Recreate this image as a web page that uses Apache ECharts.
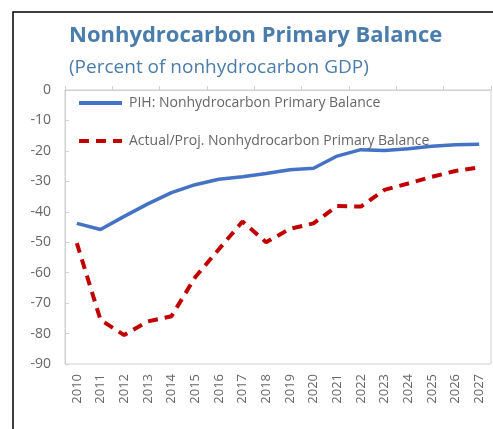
<!DOCTYPE html>
<html>
<head>
<meta charset="UTF-8">
<title>Nonhydrocarbon Primary Balance</title>
<script src="https://cdn.jsdelivr.net/npm/echarts@6/dist/echarts.min.js"></script>
<style>
  html, body, #main { margin: 0; padding: 0; width: 493px; height: 429px; background: #fff; }
</style>
</head>
<body>
<div id="main"></div>
<script>
  // data
  const years = ['2010', '2011', '2012', '2013', '2014', '2015', '2016', '2017', '2018',
                 '2019', '2020', '2021', '2022', '2023', '2024', '2025', '2026', '2027'];
  const pihBalance = [-43.8, -45.8, -41.5, -37.4, -33.7, -31.1, -29.3, -28.5, -27.4,
                      -26.2, -25.7, -21.7, -19.6, -19.9, -19.3, -18.5, -18.0, -17.8];
  const actualBalance = [-50.3, -75.5, -80.5, -76.0, -74.3, -61.5, -52.3, -43.2, -50.0,
                         -45.6, -43.8, -38.1, -38.3, -32.8, -30.7, -28.5, -26.6, -25.4];
  const seriesNames = ['PIH: Nonhydrocarbon Primary Balance',
                       'Actual/Proj. Nonhydrocarbon Primary Balance'];

  const chart = echarts.init(document.getElementById('main'));
  const font = '"Open Sans", sans-serif';
  const gray = '#666';

  chart.setOption({
    animation: false,
    backgroundColor: '#fff',
    textStyle: { fontFamily: font },
    title: {
      text: 'Nonhydrocarbon Primary Balance',
      subtext: '(Percent of nonhydrocarbon GDP)',
      left: 64,
      top: 20,
      itemGap: 11,
      textStyle: { fontFamily: font, fontSize: 22, fontWeight: 'bold', color: '#4a7dab' },
      subtextStyle: { fontFamily: font, fontSize: 19, color: '#4a7dab' }
    },
    // outer black frame, cut off at right and bottom
    graphic: [{
      type: 'rect',
      shape: { x: 13, y: 12, width: 500, height: 440 },
      style: { fill: 'none', stroke: '#000', lineWidth: 1.5 },
      silent: true
    }],
    legend: {
      orient: 'vertical',
      left: 77,
      top: 96,
      padding: 0,
      itemWidth: 43,
      itemHeight: 14,
      itemGap: 24,
      itemStyle: { opacity: 0 },
      lineStyle: { width: 4 },
      textStyle: { fontFamily: font, fontSize: 14, color: gray, padding: [0, 0, 0, 2] },
      data: seriesNames
    },
    grid: {
      left: 65, top: 90, right: 2, bottom: 65,
      show: true, borderColor: '#d0d0d0', borderWidth: 1
    },
    xAxis: [{
      type: 'category',
      data: years,
      position: 'bottom',
      axisLine: { show: false },
      axisTick: { show: false },
      axisLabel: { rotate: 90, margin: 10, fontSize: 13, color: gray, fontFamily: font }
    }, {
      type: 'category',
      data: years,
      position: 'top',
      axisLine: { show: true, lineStyle: { color: '#d0d0d0' } },
      axisTick: { show: true, length: 4, lineStyle: { color: '#d0d0d0' } },
      axisLabel: { show: false }
    }],
    yAxis: {
      type: 'value',
      min: -90,
      max: 0,
      interval: 10,
      axisLine: { show: true, lineStyle: { color: '#d0d0d0' } },
      axisTick: { show: true, inside: true, length: 4, lineStyle: { color: '#d0d0d0' } },
      splitLine: { show: false },
      axisLabel: { fontSize: 14, color: gray, margin: 14, fontFamily: font }
    },
    series: [{
      name: seriesNames[0],
      type: 'line',
      data: pihBalance,
      symbol: 'none',
      lineStyle: { color: '#4472c4', width: 3.5 },
      itemStyle: { color: '#4472c4' }
    }, {
      name: seriesNames[1],
      type: 'line',
      data: actualBalance,
      symbol: 'none',
      lineStyle: { color: '#c00000', width: 4, type: [10, 7] },
      itemStyle: { color: '#c00000' }
    }]
  });
</script>
</body>
</html>
